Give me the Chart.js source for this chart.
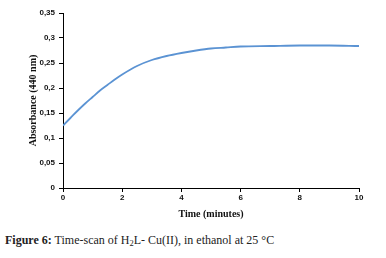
<!DOCTYPE html>
<html>
<head>
<meta charset="utf-8">
<script src="https://cdn.jsdelivr.net/npm/chart.js@4.4.1/dist/chart.umd.min.js"></script>
<style>
    html, body { margin: 0; padding: 0; background: #fff; }
    #wrap { position: relative; width: 386px; height: 258px; }
    #chart-box { position: absolute; left: 0; top: 0; width: 386px; height: 225px; }
    #caption {
        position: absolute; left: 5px; top: 233px;
        font-family: "Liberation Serif", serif; font-size: 12px; color: #222;
        white-space: nowrap;
    }
    #caption b { font-weight: bold; }
    #caption sub { font-size: 8.5px; vertical-align: -2px; line-height: 0; }
</style>
</head>
<body>
<div id="wrap">
    <div id="chart-box"><canvas id="scan-chart"></canvas></div>
    <div id="caption"><b>Figure 6:</b> Time-scan of H<sub>2</sub>L- Cu(II), in ethanol at 25 °C</div>
</div>
<script>
// time in minutes, absorbance
var times = [0, 0.25, 0.5, 0.75, 1, 1.25, 1.5, 1.75, 2, 2.5, 3, 3.5, 4, 4.5, 5, 5.5, 6, 7, 8, 9, 10];
var absorbance = [0.125, 0.140, 0.155, 0.169, 0.182, 0.195, 0.206, 0.217, 0.227, 0.244, 0.256, 0.264, 0.270, 0.275, 0.279, 0.281, 0.283, 0.284, 0.285, 0.285, 0.284];
var yTickLabels = ['0', '0,05', '0,1', '0,15', '0,2', '0,25', '0,3', '0,35'];
var xTickLabels = ['0', '2', '4', '6', '8', '10'];

function initScanChart() {
    var canvas = document.getElementById('scan-chart');
    var points = times.map(function(t, i) {
        return { x: t, y: absorbance[i] };
    });

    var tickFont = { family: 'Liberation Sans', size: 8, weight: 'bold' };
    var titleFont = { family: 'Liberation Serif', size: 10, weight: 'bold' };

    new Chart(canvas, {
        type: 'line',
        data: {
            datasets: [{
                data: points,
                borderColor: '#5b93d3',
                borderWidth: 1.8,
                pointRadius: 0,
                cubicInterpolationMode: 'monotone',
                fill: false
            }]
        },
        options: {
            responsive: true,
            maintainAspectRatio: false,
            animation: false,
            layout: { padding: { top: 13, right: 27, left: 27, bottom: 5 } },
            plugins: {
                legend: { display: false },
                tooltip: { enabled: false }
            },
            scales: {
                x: {
                    type: 'linear',
                    min: 0,
                    max: 10,
                    afterFit: function(scale) { scale.height = 32; },
                    grid: { drawOnChartArea: false, color: '#000', tickLength: 4 },
                    border: { color: '#000', width: 1 },
                    ticks: {
                        stepSize: 2,
                        color: '#111',
                        font: tickFont,
                        padding: 1,
                        maxRotation: 0,
                        callback: function(value) {
                            return xTickLabels[Math.round(value / 2)];
                        }
                    },
                    title: {
                        display: true,
                        text: 'Time (minutes)',
                        color: '#111',
                        font: titleFont,
                        padding: { top: 2, bottom: 0 }
                    }
                },
                y: {
                    min: 0,
                    max: 0.35,
                    afterFit: function(scale) { scale.width = 36; },
                    grid: { drawOnChartArea: false, color: '#000', tickLength: 4 },
                    border: { color: '#000', width: 1 },
                    ticks: {
                        stepSize: 0.05,
                        color: '#111',
                        font: tickFont,
                        padding: 4,
                        callback: function(value) {
                            return yTickLabels[Math.round(value / 0.05)];
                        }
                    },
                    title: {
                        display: true,
                        text: 'Absorbance (440 nm)',
                        color: '#111',
                        font: titleFont,
                        padding: { top: 0, bottom: 2 }
                    }
                }
            }
        }
    });
}

initScanChart();
</script>
</body>
</html>
